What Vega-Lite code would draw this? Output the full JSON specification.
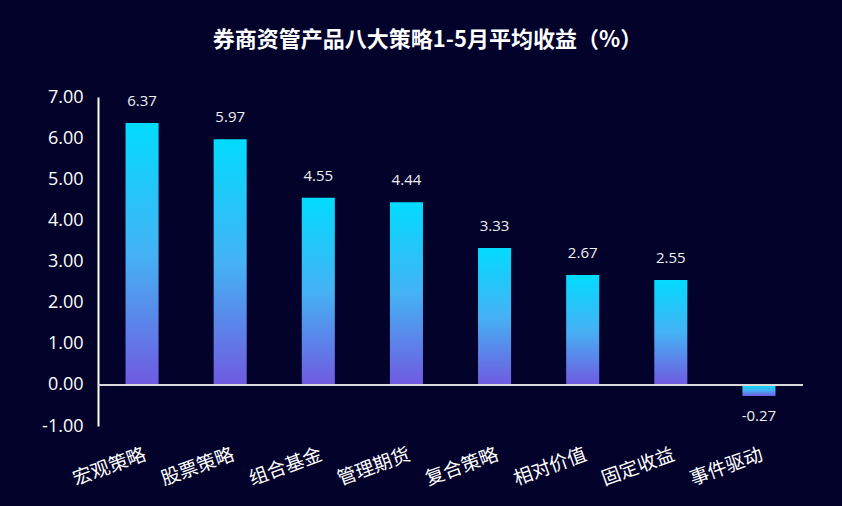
{
  "$schema": "https://vega.github.io/schema/vega-lite/v6.json",
  "autosize": "none",
  "width": 705,
  "height": 329,
  "padding": {"left": 98, "top": 97, "right": 39, "bottom": 80},
  "background": "#02022a",
  "config": {
    "view": {"stroke": null},
    "font": "Noto Sans CJK SC"
  },
  "title": {
    "text": "券商资管产品八大策略1-5月平均收益（%）",
    "color": "#ffffff",
    "fontSize": 22,
    "fontWeight": "bold",
    "font": "Noto Sans CJK SC",
    "anchor": "middle",
    "offset": 36,
    "dx": -23
  },
  "data": {
    "values": [
      {"strategy": "宏观策略", "value": 6.37},
      {"strategy": "股票策略", "value": 5.97},
      {"strategy": "组合基金", "value": 4.55},
      {"strategy": "管理期货", "value": 4.44},
      {"strategy": "复合策略", "value": 3.33},
      {"strategy": "相对价值", "value": 2.67},
      {"strategy": "固定收益", "value": 2.55},
      {"strategy": "事件驱动", "value": -0.27}
    ]
  },
  "encoding": {
    "x": {
      "field": "strategy",
      "type": "nominal",
      "sort": null,
      "scale": {"paddingInner": 0.625, "paddingOuter": 0.3125},
      "axis": {
        "title": null,
        "domain": false,
        "ticks": false,
        "labelAngle": -20,
        "labelColor": "#ffffff",
        "labelFontSize": 19,
        "labelPadding": 19,
        "labelDx": -14,
        "labelFont": "Noto Sans CJK SC"
      }
    }
  },
  "layer": [
    {
      "mark": {
        "type": "bar",
        "color": {
          "gradient": "linear",
          "x1": 0, "y1": 0, "x2": 0, "y2": 1,
          "stops": [
            {"offset": 0, "color": "#02dbff"},
            {"offset": 0.5, "color": "#45b2f4"},
            {"offset": 1, "color": "#705ae0"}
          ]
        }
      },
      "encoding": {
        "y": {
          "field": "value",
          "type": "quantitative",
          "scale": {"domain": [-1, 7], "nice": false},
          "axis": {
            "title": null,
            "values": [-1, 0, 1, 2, 3, 4, 5, 6, 7],
            "format": ".2f",
            "labelExpr": "replace(datum.label, '\u2212', '-')",
            "grid": false,
            "ticks": false,
            "domainColor": "#ffffff",
            "domainWidth": 2,
            "labelColor": "#ffffff",
            "labelFontSize": 18,
            "labelPadding": 15,
            "labelFont": "Open Sans"
          }
        }
      }
    },
    {
      "mark": {"type": "rule", "color": "#d9d9d9", "strokeWidth": 2},
      "encoding": {"y": {"datum": 0, "type": "quantitative"}, "x": {"value": 0}, "x2": {"value": 705}}
    },
    {
      "transform": [{"filter": "datum.value >= 0"}],
      "mark": {"type": "text", "color": "#f0f0f0", "fontSize": 15, "font": "Open Sans", "baseline": "bottom", "dy": -14,
        "text": {"expr": "format(datum.value, '.2f')"}},
      "encoding": {
        "y": {"field": "value", "type": "quantitative"}
      }
    },
    {
      "transform": [{"filter": "datum.value < 0"}],
      "mark": {"type": "text", "color": "#f0f0f0", "fontSize": 15, "font": "Open Sans", "baseline": "top", "dy": 13,
        "text": {"expr": "replace(format(datum.value, '.2f'), '\u2212', '-')"}},
      "encoding": {
        "y": {"field": "value", "type": "quantitative"}
      }
    }
  ]
}
